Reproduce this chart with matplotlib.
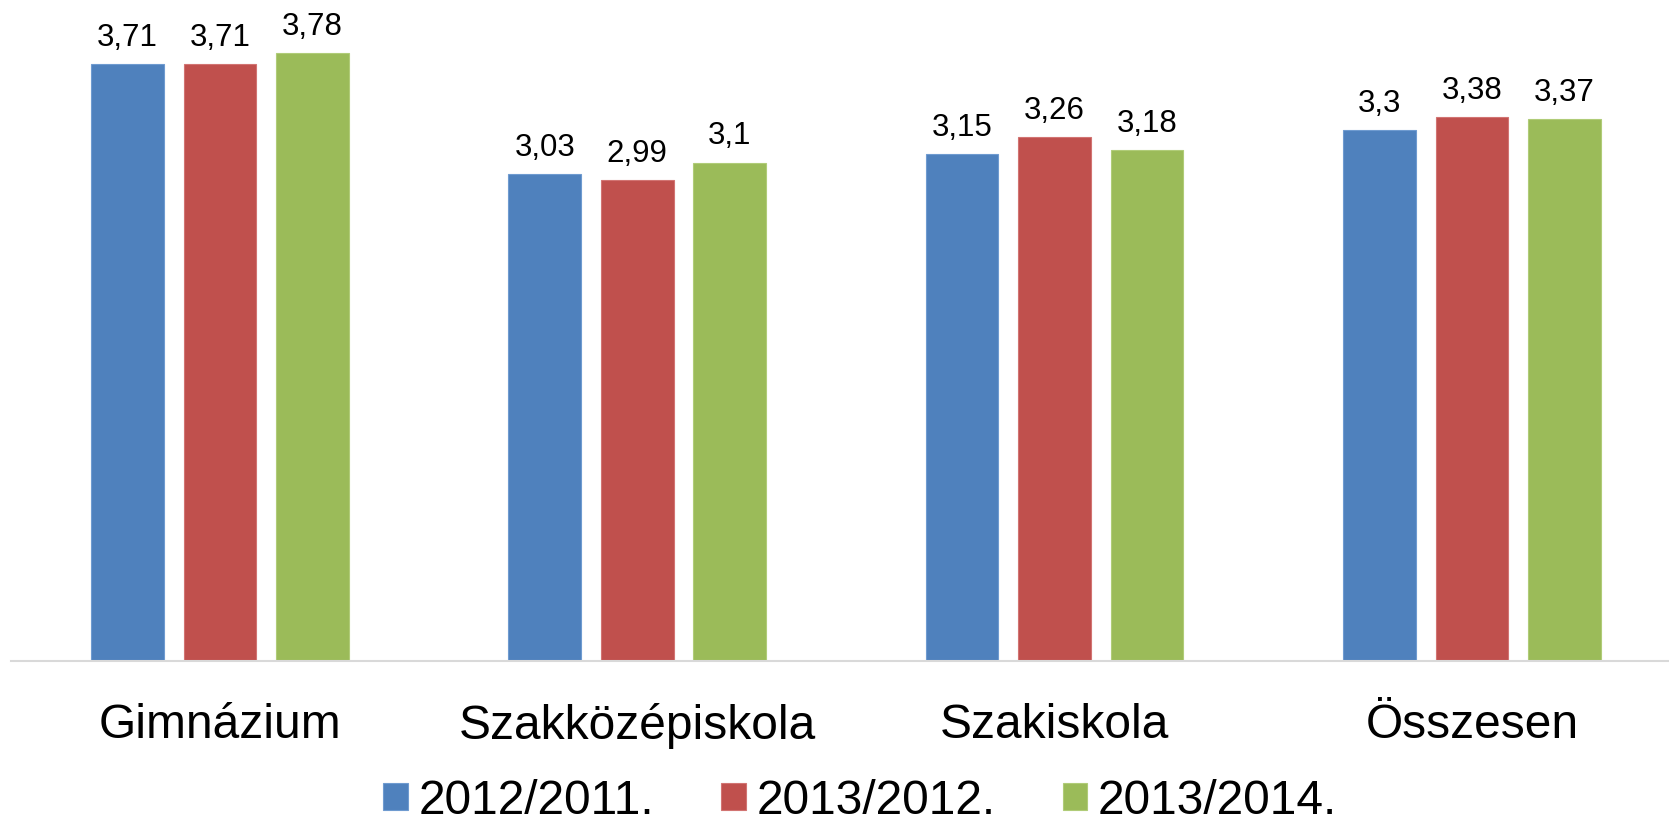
import matplotlib
matplotlib.use("Agg")
import matplotlib.pyplot as plt
import numpy as np

categories = ["Gimnázium", "Szakközépiskola", "Szakiskola", "Összesen"]
series_names = ["2012/2011.", "2013/2012.", "2013/2014."]
v2012_2011 = [3.71, 3.03, 3.15, 3.3]
v2013_2012 = [3.71, 2.99, 3.26, 3.38]
v2013_2014 = [3.78, 3.1, 3.18, 3.37]
colors = ["#4F81BD", "#C0504D", "#9BBB59"]
edge_colors = ["#6F9BD0", "#D27472", "#B0CC78"]

plt.rcParams['font.family'] = ['Liberation Sans', 'DejaVu Sans']

W, H = 1669, 822
fig = plt.figure(figsize=(W / 100, H / 100), dpi=100)
left = 11.3 / W
right = 1680.5 / W
bottom = (H - 661.3) / H
ymax = 4.0
px_per_unit = 160.9
height = ymax * px_per_unit / H
ax = fig.add_axes([left, bottom, right - left, height])

x = np.arange(len(categories))
width = 0.174
pitch = 0.2217
all_series = [v2012_2011, v2013_2012, v2013_2014]
for i, (vals, name) in enumerate(zip(all_series, series_names)):
    pos = x + (i - 1) * pitch
    bars = ax.bar(pos, vals, width, color=colors[i], edgecolor=edge_colors[i],
                  linewidth=0.8, label=name, zorder=2)
    labels = [f"{v:g}".replace(".", ",") for v in vals]
    ax.bar_label(bars, labels=labels, padding=8, fontsize=22.5, color="black")

ax.set_xlim(-0.5, len(categories) - 0.5)
ax.set_ylim(0, ymax)
for s in ["top", "right", "left"]:
    ax.spines[s].set_visible(False)
ax.spines["bottom"].set_color("#D9D9D9")
ax.spines["bottom"].set_linewidth(1.5)
ax.set_yticks([])
ax.set_xticks(x)
ax.set_xticklabels(categories, fontsize=34.5)
ax.tick_params(axis="x", length=0, pad=30)

leg = fig.legend(loc="center", bbox_to_anchor=(860 / W, 1 - 801 / H), ncol=3,
                 frameon=False, fontsize=34.5, handlelength=0.52, handleheight=0.52,
                 handletextpad=0.22, columnspacing=1.4, borderpad=0, borderaxespad=0)

fig.savefig("out.png", dpi=100)
